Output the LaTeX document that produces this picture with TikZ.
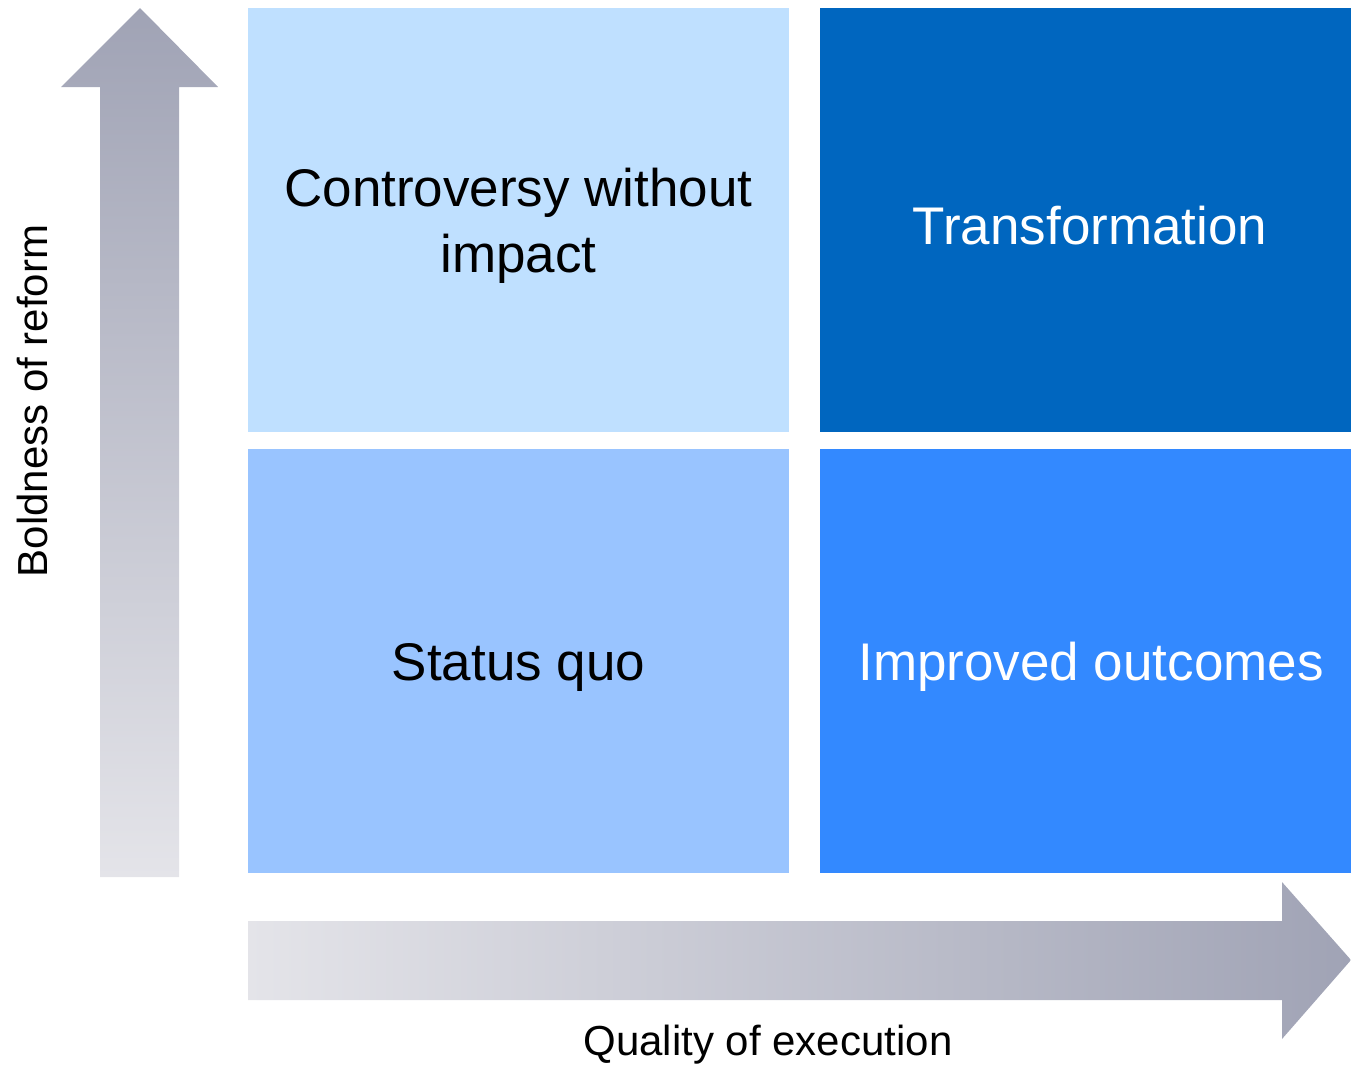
\documentclass[tikz,border=0pt]{standalone}
\usepackage{fontspec}
\setmainfont{Liberation Sans}
\definecolor{cTL}{RGB}{191,224,255}
\definecolor{cTR}{RGB}{0,102,191}
\definecolor{cBL}{RGB}{153,196,255}
\definecolor{cBR}{RGB}{51,137,255}
\definecolor{adark}{RGB}{160,163,181}
\definecolor{alight}{RGB}{228,228,233}
\begin{document}
\begin{tikzpicture}[x=1pt,y=-1pt,
  bigtext/.style={font=\fontsize{53}{66}\selectfont,align=center},
  axislabel/.style={font=\fontsize{42}{50}\selectfont}]
\useasboundingbox (0,0) rectangle (1351,1065);
% quadrants
\fill[cTL] (248,8) rectangle (789,432);
\fill[cTR] (820,8) rectangle (1351,432);
\fill[cBL] (248,449) rectangle (789,873);
\fill[cBR] (820,449) rectangle (1351,873);
\node[bigtext,text=black] (tl) at (518.5,226) {Controversy without\\impact};
\node[bigtext,text=white] (tr) at (1090,226) {Transformation};
\node[bigtext,text=black] (bl) at (518.5,667) {Status quo};
\node[bigtext,text=white] (br) at (1091,667) {Improved outcomes};
% vertical arrow
\shade[top color=adark,bottom color=alight]
  (100,877) -- (100,87) -- (61,87) -- (140,8) -- (218,87) -- (179,87) -- (179,877) -- cycle;
% horizontal arrow
\shade[left color=alight,right color=adark]
  (248,921) -- (1282,921) -- (1282,882) -- (1351,960) -- (1282,1039) -- (1282,1000) -- (248,1000) -- cycle;
% axis labels
\node[axislabel,rotate=90] (ylab) at (32,401) {Boldness of reform};
\node[axislabel] (xlab) at (768,1045) {Quality of execution};
\end{tikzpicture}
\end{document}
